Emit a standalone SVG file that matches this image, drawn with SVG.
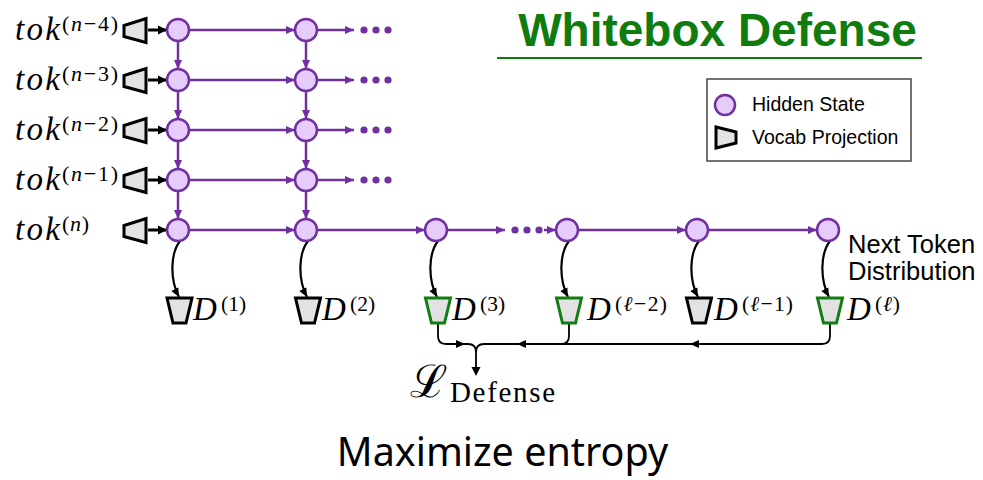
<svg xmlns="http://www.w3.org/2000/svg" width="983" height="480" viewBox="0 0 983 480">
  <defs>
    <style>
      .hs { fill: #e6ccfb; stroke: #7030a0; stroke-width: 2.5; }
      .vp { fill: #e2e2e2; stroke: #000; stroke-width: 3; stroke-linejoin: miter; }
      .vpg { fill: #e2e2e2; stroke: #137d13; stroke-width: 3; }
      .pl { stroke: #7030a0; stroke-width: 2.5; fill: none; marker-end: url(#ap); }
      .bl { stroke: #000; stroke-width: 3; fill: none; marker-end: url(#ab); }
      .cv { stroke: #000; stroke-width: 2.2; fill: none; marker-end: url(#ac); }
      .mg { stroke: #000; stroke-width: 1.8; fill: none; }
      .dot { fill: #7030a0; }
      .mi { font-family: "Liberation Serif", "DejaVu Serif", serif; font-style: italic; fill: #000; }
      .up { font-family: "Liberation Serif", "DejaVu Serif", serif; fill: #000; }
      .sans { font-family: "Liberation Sans", Arial, sans-serif; fill: #000; }
    </style>
    <marker id="ap" markerUnits="userSpaceOnUse" markerWidth="10" markerHeight="10" refX="9" refY="5" orient="auto">
      <path d="M0,1 L9,5 L0,9 z" fill="#7030a0"/>
    </marker>
    <marker id="ab" markerUnits="userSpaceOnUse" markerWidth="10" markerHeight="10" refX="9" refY="5" orient="auto">
      <path d="M0,0.5 L9,5 L0,9.5 z" fill="#000"/>
    </marker>
    <marker id="ac" markerUnits="userSpaceOnUse" markerWidth="10" markerHeight="10" refX="9" refY="5" orient="auto">
      <path d="M0,1 L9,5 L0,9 z" fill="#000"/>
    </marker>
    <!-- input projection: narrow side left, wide side facing the hidden state -->
    <polygon id="vin" points="-11,-5 11,-12 11,12 -11,6"/>
    <!-- output projection: wide top, narrow bottom -->
    <polygon id="vout" points="-12.5,0 12.5,0 6.5,25 -6.5,25"/>
  </defs>

  <!-- title -->
  <g id="title">
    <text x="717.5" y="46" text-anchor="middle" font-family="Liberation Sans, Arial, sans-serif" font-weight="bold" font-size="46" fill="#107c10">Whitebox Defense</text>
    <line x1="497" y1="58" x2="922" y2="58" stroke="#107c10" stroke-width="2.2"/>
  </g>

  <!-- legend -->
  <g id="legend">
    <rect x="707" y="79" width="204" height="82" fill="#fff" stroke="#444" stroke-width="1.5"/>
    <circle cx="725" cy="105" r="10" class="hs"/>
    <text x="752" y="111" class="sans" font-size="19.5">Hidden State</text>
    <polygon points="716,127 736,132 736,143 716,148" class="vp" stroke-width="2.5"/>
    <text x="752" y="144" class="sans" font-size="19.5">Vocab Projection</text>
  </g>

  <!-- token labels -->
  <g id="tokens">
    <text x="15" y="40" class="mi" font-size="33" textLength="45">tok</text>
    <text x="62" y="30.5" class="up" font-size="22" textLength="56">(<tspan font-style="italic">n</tspan>−4)</text>
    <text x="15" y="90" class="mi" font-size="33" textLength="45">tok</text>
    <text x="62" y="80.5" class="up" font-size="22" textLength="56">(<tspan font-style="italic">n</tspan>−3)</text>
    <text x="15" y="140" class="mi" font-size="33" textLength="45">tok</text>
    <text x="62" y="130.5" class="up" font-size="22" textLength="56">(<tspan font-style="italic">n</tspan>−2)</text>
    <text x="15" y="190" class="mi" font-size="33" textLength="45">tok</text>
    <text x="62" y="180.5" class="up" font-size="22" textLength="56">(<tspan font-style="italic">n</tspan>−1)</text>
    <text x="15" y="240" class="mi" font-size="33" textLength="45">tok</text>
    <text x="62" y="230.5" class="up" font-size="22" textLength="27">(<tspan font-style="italic">n</tspan>)</text>
  </g>

  <!-- input vocab projections -->
  <g id="inputs">
    <use href="#vin" x="135" y="30.5" class="vp"/>
    <use href="#vin" x="135" y="80.5" class="vp"/>
    <use href="#vin" x="135" y="130.5" class="vp"/>
    <use href="#vin" x="135" y="180.5" class="vp"/>
    <use href="#vin" x="135" y="230.5" class="vp"/>
  </g>

  <!-- connectors -->
  <g id="connectors">
    <!-- projection to first hidden state -->
    <line x1="148" y1="30" x2="167" y2="30" class="bl"/>
    <line x1="148" y1="80" x2="167" y2="80" class="bl"/>
    <line x1="148" y1="130" x2="167" y2="130" class="bl"/>
    <line x1="148" y1="180" x2="167" y2="180" class="bl"/>
    <line x1="148" y1="230" x2="167" y2="230" class="bl"/>

    <!-- horizontal layer-to-layer links -->
    <line x1="189" y1="30" x2="295" y2="30" class="pl"/>
    <line x1="317" y1="30" x2="354" y2="30" class="pl"/>
    <line x1="189" y1="80" x2="295" y2="80" class="pl"/>
    <line x1="317" y1="80" x2="354" y2="80" class="pl"/>
    <line x1="189" y1="130" x2="295" y2="130" class="pl"/>
    <line x1="317" y1="130" x2="354" y2="130" class="pl"/>
    <line x1="189" y1="180" x2="295" y2="180" class="pl"/>
    <line x1="317" y1="180" x2="354" y2="180" class="pl"/>
    <line x1="189" y1="230" x2="295" y2="230" class="pl"/>
    <line x1="317" y1="230" x2="425" y2="230" class="pl"/>
    <line x1="447" y1="230" x2="505" y2="230" class="pl"/>
    <line x1="544" y1="230" x2="556" y2="230" class="pl"/>
    <line x1="578" y1="230" x2="686" y2="230" class="pl"/>
    <line x1="708" y1="230" x2="817" y2="230" class="pl"/>

    <!-- vertical links between positions -->
    <line x1="178" y1="41" x2="178" y2="69" class="pl"/>
    <line x1="178" y1="91" x2="178" y2="119" class="pl"/>
    <line x1="178" y1="141" x2="178" y2="169" class="pl"/>
    <line x1="178" y1="191" x2="178" y2="219" class="pl"/>
    <line x1="306" y1="41" x2="306" y2="69" class="pl"/>
    <line x1="306" y1="91" x2="306" y2="119" class="pl"/>
    <line x1="306" y1="141" x2="306" y2="169" class="pl"/>
    <line x1="306" y1="191" x2="306" y2="219" class="pl"/>

    <!-- continuation dots -->
    <circle cx="364" cy="30" r="3.6" class="dot"/><circle cx="376" cy="30" r="3.6" class="dot"/><circle cx="388" cy="30" r="3.6" class="dot"/>
    <circle cx="364" cy="80" r="3.6" class="dot"/><circle cx="376" cy="80" r="3.6" class="dot"/><circle cx="388" cy="80" r="3.6" class="dot"/>
    <circle cx="364" cy="130" r="3.6" class="dot"/><circle cx="376" cy="130" r="3.6" class="dot"/><circle cx="388" cy="130" r="3.6" class="dot"/>
    <circle cx="364" cy="180" r="3.6" class="dot"/><circle cx="376" cy="180" r="3.6" class="dot"/><circle cx="388" cy="180" r="3.6" class="dot"/>
    <circle cx="515" cy="230" r="3.6" class="dot"/><circle cx="527" cy="230" r="3.6" class="dot"/><circle cx="539" cy="230" r="3.6" class="dot"/>

    <!-- hidden state to distribution -->
    <path d="M180 241 C170 254, 170 280, 179 297" class="cv"/>
    <path d="M308 241 C298 254, 298 280, 307 297" class="cv"/>
    <path d="M438 241 C428 254, 428 280, 437 297" class="cv"/>
    <path d="M569 241 C559 254, 559 280, 568 297" class="cv"/>
    <path d="M699 241 C689 254, 689 280, 698 297" class="cv"/>
    <path d="M830 241 C820 254, 820 280, 829 297" class="cv"/>

    <!-- selected distributions merged into the loss -->
    <path d="M438 324 V336 Q438 344 446 344 H468 Q476 344 476 352 V374" class="mg"/>
    <path d="M830 324 V336 Q830 344 822 344 H484 Q476 344 476 352" class="mg"/>
    <path d="M569 324 V336 Q569 344 561 344" class="mg"/>
    <polygon points="456,340 465,344 456,348"/>
    <polygon points="526,340 517,344 526,348"/>
    <polygon points="699,340 690,344 699,348"/>
    <polygon points="471.5,367 476,376 480.5,367"/>
  </g>

  <!-- hidden states -->
  <g id="h-n4"><circle cx="178" cy="30" r="11" class="hs"/><circle cx="306" cy="30" r="11" class="hs"/></g>
  <g id="h-n3"><circle cx="178" cy="80" r="11" class="hs"/><circle cx="306" cy="80" r="11" class="hs"/></g>
  <g id="h-n2"><circle cx="178" cy="130" r="11" class="hs"/><circle cx="306" cy="130" r="11" class="hs"/></g>
  <g id="h-n1"><circle cx="178" cy="180" r="11" class="hs"/><circle cx="306" cy="180" r="11" class="hs"/></g>
  <g id="h-n">
    <circle cx="178" cy="230" r="11" class="hs"/>
    <circle cx="306" cy="230" r="11" class="hs"/>
    <circle cx="436" cy="230" r="11" class="hs"/>
    <circle cx="567" cy="230" r="11" class="hs"/>
    <circle cx="697" cy="230" r="11" class="hs"/>
    <circle cx="828" cy="230" r="11" class="hs"/>
  </g>

  <g id="next-token">
    <text x="848" y="253" class="sans" font-size="25.5">Next Token</text>
    <text x="848" y="280" class="sans" font-size="25.5">Distribution</text>
  </g>

  <!-- per-layer distributions -->
  <g id="d1">
    <use href="#vout" x="179.5" y="298" class="vp"/>
    <text x="193" y="320" class="mi" font-size="33">D</text>
    <text x="221" y="311" class="up" font-size="21.5">(1)</text>
  </g>
  <g id="d2">
    <use href="#vout" x="308" y="298" class="vp"/>
    <text x="322" y="320" class="mi" font-size="33">D</text>
    <text x="350" y="311" class="up" font-size="21.5">(2)</text>
  </g>
  <g id="d3">
    <use href="#vout" x="438" y="298" class="vpg"/>
    <text x="452" y="320" class="mi" font-size="33">D</text>
    <text x="480" y="311" class="up" font-size="21.5">(3)</text>
  </g>
  <g id="d4">
    <use href="#vout" x="569" y="298" class="vpg"/>
    <text x="587" y="320" class="mi" font-size="33">D</text>
    <text x="615" y="311" class="up" font-size="21.5" textLength="52">(<tspan font-style="italic">ℓ</tspan>−2)</text>
  </g>
  <g id="d5">
    <use href="#vout" x="699" y="298" class="vp"/>
    <text x="714" y="320" class="mi" font-size="33">D</text>
    <text x="742" y="311" class="up" font-size="21.5" textLength="51">(<tspan font-style="italic">ℓ</tspan>−1)</text>
  </g>
  <g id="d6">
    <use href="#vout" x="830" y="298" class="vpg"/>
    <text x="847" y="320" class="mi" font-size="33">D</text>
    <text x="875" y="311" class="up" font-size="21.5" textLength="25">(<tspan font-style="italic">ℓ</tspan>)</text>
  </g>

  <!-- loss -->
  <g id="loss">
    <text x="410" y="397" font-family="DejaVu Serif, serif" font-size="45" fill="#000">ℒ</text>
    <text x="450" y="402" class="up" font-size="29" textLength="105">Defense</text>
  </g>

  <text x="502.5" y="466" text-anchor="middle" font-family="Noto Sans, Open Sans, sans-serif" font-size="39.5" fill="#000">Maximize entropy</text>
</svg>
